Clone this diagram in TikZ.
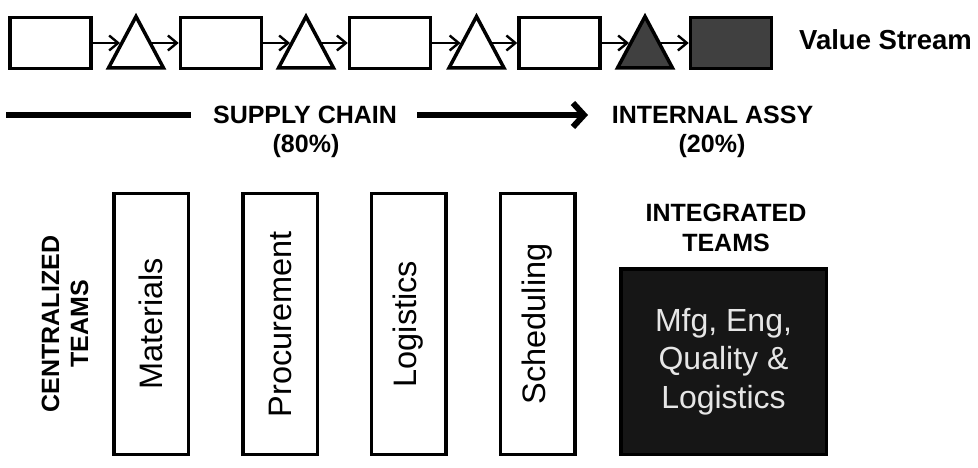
\documentclass[tikz,border=0pt]{standalone}
\usepackage{fontspec}
\setmainfont{Liberation Sans}
\usetikzlibrary{arrows.meta}
\definecolor{darkfill}{HTML}{404040}
\definecolor{blackfill}{HTML}{161616}
\definecolor{lighttext}{HTML}{E6E6E6}
\begin{document}
\begin{tikzpicture}[x=1pt,y=-1pt,
  vsbox/.style={draw=black,line width=3.5pt,minimum width=81pt,minimum height=51pt,inner sep=0pt},
  vstri/.style={draw=black,line width=3.5pt,line join=miter},
  flow/.style={line width=2.4pt,-{Straight Barb[length=9pt,width=15pt]}},
  bigline/.style={line width=6pt},
  bigarrow/.style={line width=6pt,-{Straight Barb[length=11pt,width=24pt]}},
  lbl/.style={font=\fontsize{25}{30}\selectfont\bfseries,inner sep=0pt,align=center},
  teambox/.style={draw=black,line width=3.5pt,rotate=90,minimum width=260.5pt,minimum height=74.5pt,inner sep=0pt,font=\fontsize{32.5}{38}\selectfont}
]
\useasboundingbox (0,0) rectangle (978,468);

% value stream row
\node[vsbox] (b1) at (50.5,43) {};
\node[vsbox] (b2) at (221,43) {};
\node[vsbox] (b3) at (390,43) {};
\node[vsbox] (b4) at (559.5,43) {};
\node[vsbox,fill=darkfill] (b5) at (731,43) {};

\draw[vstri] (108.5,68) -- (136,16.5) -- (163.5,68) -- cycle;
\draw[vstri] (278.5,68) -- (306,16.5) -- (333.5,68) -- cycle;
\draw[vstri] (449,68) -- (476.5,16.5) -- (504,68) -- cycle;
\draw[vstri,fill=darkfill] (617.5,68) -- (645,16.5) -- (672.5,68) -- cycle;

\coordinate (t1in) at (120,43);  \coordinate (t1out) at (150,43);
\coordinate (t2in) at (290,43);  \coordinate (t2out) at (320,43);
\coordinate (t3in) at (460.5,43); \coordinate (t3out) at (490.5,43);
\coordinate (t4in) at (629,43);  \coordinate (t4out) at (659,43);

\draw[flow] (b1.east) -- (t1in);
\draw[flow] (t1out) -- (b2.west);
\draw[flow] (b2.east) -- (t2in);
\draw[flow] (t2out) -- (b3.west);
\draw[flow] (b3.east) -- (t3in);
\draw[flow] (t3out) -- (b4.west);
\draw[flow] (b4.east) -- (t4in);
\draw[flow] (t4out) -- (b5.west);

\node[lbl,anchor=west,font=\fontsize{27.5}{30}\selectfont\bfseries] (vs) at (799,40) {Value Stream};

% supply chain row
\coordinate (l1) at (6,115);
\node[lbl] (sc) at (305,115) {SUPPLY CHAIN};
\node[lbl] (sc80) at (306,146) {(80\%)};
\node[lbl] (ia) at (712.5,115) {INTERNAL ASSY};
\node[lbl] (ia20) at (712,146) {(20\%)};
\coordinate (l2) at (191,115);
\coordinate (a1) at (417,115);
\coordinate (a2) at (588,115);
\draw[bigline] (l1) -- (l2);
\draw[bigarrow] (a1) -- (a2);

% teams
\node[lbl,rotate=90,font=\fontsize{25}{29}\selectfont\bfseries] (ct) at (65,324) {CENTRALIZED\\TEAMS};
\node[teambox] (mat) at (151,324) {Materials};
\node[teambox] (pro) at (280,324) {Procurement};
\node[teambox] (log) at (408.5,324) {Logistics};
\node[teambox] (sch) at (537.5,324) {Scheduling};

\node[lbl] (it) at (726,228) {INTEGRATED\\TEAMS};
\node[draw=black,line width=3.5pt,fill=blackfill,minimum width=205.5pt,minimum height=185.5pt,inner sep=0pt,
  text=lighttext,align=center,font=\fontsize{32}{38.5}\selectfont] (int) at (723.5,361.5) {Mfg, Eng,\\Quality \&\\Logistics};
\end{tikzpicture}
\end{document}
